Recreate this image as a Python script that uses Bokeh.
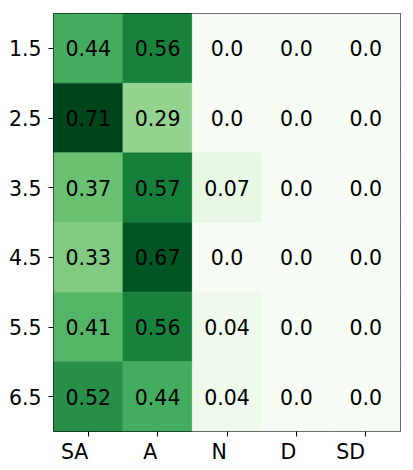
import numpy as np
from bokeh.plotting import figure
from bokeh.models import (ColumnDataSource, LinearColorMapper, Range1d, FixedTicker,
                          LinearAxis)
from bokeh.transform import transform
from bokeh.core.properties import value
from bokeh.embed import file_html
from bokeh.resources import INLINE

# ---- data ----
columns = ["SA", "A", "N", "D", "SD"]
rows = ["1.5", "2.5", "3.5", "4.5", "5.5", "6.5"]
row_1_5 = [0.44, 0.56, 0.0, 0.0, 0.0]
row_2_5 = [0.71, 0.29, 0.0, 0.0, 0.0]
row_3_5 = [0.37, 0.57, 0.07, 0.0, 0.0]
row_4_5 = [0.33, 0.67, 0.0, 0.0, 0.0]
row_5_5 = [0.41, 0.56, 0.04, 0.0, 0.0]
row_6_5 = [0.52, 0.44, 0.04, 0.0, 0.0]
matrix = [row_1_5, row_2_5, row_3_5, row_4_5, row_5_5, row_6_5]

# ---- colour map (matplotlib "Greens") ----
greens9 = ["#f7fcf5", "#e5f5e0", "#c7e9c0", "#a1d99b", "#74c476",
           "#41ab5d", "#238b45", "#006d2c", "#00441b"]
anch = np.array([[int(c[i:i + 2], 16) for i in (1, 3, 5)] for c in greens9], float)
pos = np.linspace(0, 1, len(greens9))
t = np.linspace(0, 1, 256)
rgb = np.stack([np.interp(t, pos, anch[:, k]) for k in range(3)], axis=1)
palette = ["#%02x%02x%02x" % tuple(int(round(v)) for v in c) for c in rgb]

vals = [v for r in matrix for v in r]
mapper = LinearColorMapper(palette=palette, low=min(vals), high=max(vals))

xs, ys, vs, txt = [], [], [], []
for i, r in enumerate(matrix):
    for j, v in enumerate(r):
        xs.append(j + 0.5)
        ys.append(i + 0.5)
        vs.append(v)
        txt.append(str(round(v, 2)))
src = ColumnDataSource(dict(x=xs, y=ys, v=vs, t=txt))

FONT = "DejaVu Sans"
FS = "20.5px"

p = figure(width=412, height=466, output_backend="svg", toolbar_location=None,
           x_range=Range1d(0, len(columns)), y_range=Range1d(len(rows), 0),
           x_axis_location=None, y_axis_location=None,
           min_border_left=53, min_border_right=12, min_border_top=13,
           min_border_bottom=35)
p.grid.visible = False
p.outline_line_color = "black"
p.outline_line_width = 1
p.background_fill_color = "white"

p.rect(x="x", y="y", width=1, height=1, source=src,
       fill_color=transform("v", mapper), line_color=transform("v", mapper),
       line_width=0.5)
p.text(x="x", y="y", text="t", source=src, text_align="center",
       text_baseline="middle", text_color="black",
       text_font=value(FONT), text_font_size=FS)

# y axis
yax = LinearAxis(ticker=FixedTicker(ticks=[i + 0.5 for i in range(len(rows))]),
                 major_label_overrides={i + 0.5: r for i, r in enumerate(rows)})
yax.major_label_text_font = FONT
yax.major_label_text_font_size = FS
yax.major_label_text_color = "black"
yax.major_tick_out = 5
yax.major_tick_in = 0
yax.major_tick_line_color = "black"
yax.minor_tick_line_color = None
yax.axis_line_color = None
yax.major_label_standoff = 7
p.add_layout(yax, "left")

# x axis: tick marks at cell centres
xtick = LinearAxis(ticker=FixedTicker(ticks=[j + 0.5 for j in range(len(columns))]),
                   major_label_overrides={j + 0.5: "" for j in range(len(columns))})
xtick.major_tick_out = 5
xtick.major_tick_in = 0
xtick.major_tick_line_color = "black"
xtick.minor_tick_line_color = None
xtick.axis_line_color = None
xtick.major_label_text_font_size = "1px"
xtick.major_label_text_color = None
xtick.major_label_standoff = 0
p.add_layout(xtick, "below")

# x axis labels, right-aligned to the tick marks (as in the original)
label_shift = [0.195, 0.107, 0.112, 0.114, 0.218]
lab_pos = [j + 0.5 - s for j, s in enumerate(label_shift)]
xlab = LinearAxis(ticker=FixedTicker(ticks=lab_pos),
                  major_label_overrides={pp: c for pp, c in zip(lab_pos, columns)})
xlab.major_tick_out = 0
xlab.major_tick_in = 0
xlab.major_tick_line_color = None
xlab.minor_tick_line_color = None
xlab.axis_line_color = None
xlab.major_label_text_font = FONT
xlab.major_label_text_font_size = FS
xlab.major_label_text_color = "black"
xlab.major_label_standoff = 3
p.add_layout(xlab, "below")

open("out.html", "w").write(file_html(p, INLINE))
